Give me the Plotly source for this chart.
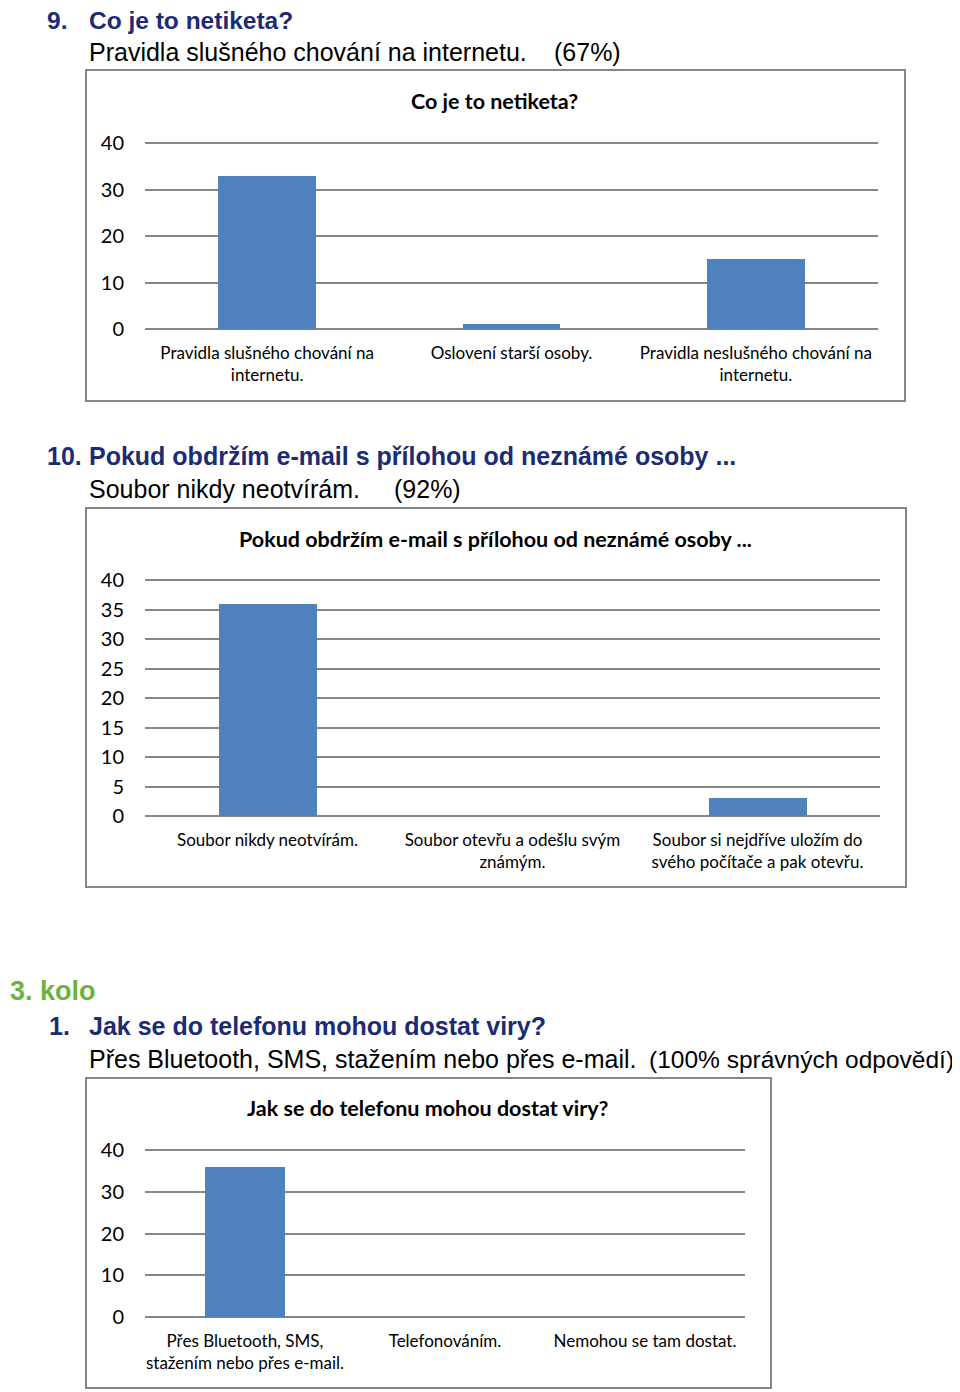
import plotly.graph_objects as go

# page coordinates of the reference (960x1392); the figure itself starts at
# the page's 8px body margin, so it is 952x1384 and positions are offset.
PW, PH = 960, 1392
OFF = 8
W, H = PW - OFF, PH - OFF

# ---- data ----
cats1 = ["Pravidla slušného chování na<br>internetu.", "Oslovení starší osoby.",
         "Pravidla neslušného chování na<br>internetu."]
vals1 = [33, 1, 15]
title1 = "Co je to netiketa?"

cats2 = ["Soubor nikdy neotvírám.", "Soubor otevřu a odešlu svým<br>známým.",
         "Soubor si nejdříve uložím do<br>svého počítače a pak otevřu."]
vals2 = [36, 0, 3]
title2 = "Pokud obdržím e-mail s přílohou od neznámé osoby ..."

cats3 = ["Přes Bluetooth, SMS,<br>stažením nebo přes e-mail.", "Telefonováním.",
         "Nemohou se tam dostat."]
vals3 = [36, 0, 0]
title3 = "Jak se do telefonu mohou dostat viry?"

BAR = "#4F81BD"
GRID = "#868686"
NAVY = "#1C2C74"
GREEN = "#6AB43E"
CFONT = "Lato"
HFONT = "Liberation Sans"


def fx(px):
    return (px - OFF) / W


def fy(py):
    return 1 - (py - OFF) / H


fig = go.Figure()

charts = [
    (cats1, vals1, "x", "y", (145, 878), (143, 329), 10),
    (cats2, vals2, "x2", "y2", (145, 880), (580, 816), 5),
    (cats3, vals3, "x3", "y3", (145, 745), (1150, 1317), 10),
]

YMAX = 40
EXTRA = 3  # px of headroom so the top gridline is kept

for i, (cats, vals, xa, ya, xd, yd, dt) in enumerate(charts):
    fig.add_trace(go.Bar(x=cats, y=vals, xaxis=xa, yaxis=ya, width=0.4,
                         marker=dict(color=BAR, line=dict(width=0)),
                         showlegend=False))
    sfx = "" if i == 0 else str(i + 1)
    ppu = (yd[1] - yd[0]) / YMAX
    top = YMAX + EXTRA / ppu
    fig.layout["xaxis" + sfx] = dict(
        domain=[fx(xd[0]), fx(xd[1])], anchor="y" + sfx, type="category",
        range=[-0.5, 2.5], showgrid=False, showline=False, ticks="",
        automargin=False,
        tickfont=dict(family=CFONT, size=17, color="#000000"),
        ticklabelstandoff=12, fixedrange=True)
    fig.layout["yaxis" + sfx] = dict(
        domain=[fy(yd[1]), fy(yd[0] - EXTRA)], anchor="x" + sfx, range=[0, top],
        dtick=dt, tick0=0, showgrid=True, gridcolor=GRID, gridwidth=1.5,
        zeroline=True, zerolinecolor=GRID, zerolinewidth=1.5,
        showline=False, ticks="", automargin=False,
        tickfont=dict(family=CFONT, size=20, color="#000000"),
        ticklabelstandoff=20, fixedrange=True)

# chart boxes
boxes = [(86, 70, 905, 401), (86, 508, 906, 887), (86, 1078, 771, 1388)]
shapes = []
for x0, y0, x1, y1 in boxes:
    shapes.append(dict(type="rect", xref="paper", yref="paper",
                       x0=fx(x0), x1=fx(x1), y0=fy(y1), y1=fy(y0),
                       line=dict(color=GRID, width=2), fillcolor="rgba(0,0,0,0)",
                       layer="below"))

ann = []


def text(x, y, s, size=25, color="#000000", bold=False, family=HFONT, anchor="left"):
    if bold:
        s = "<b>" + s + "</b>"
    ann.append(dict(x=fx(x), y=fy(y), xref="paper", yref="paper", text=s,
                    showarrow=False, xanchor=anchor, yanchor="middle",
                    font=dict(family=family, size=size, color=color)))


# chart titles
text(495, 101, title1, size=21.5, bold=True, family=CFONT, anchor="center")
text(496, 539, title2, size=21.5, bold=True, family=CFONT, anchor="center")
text(428, 1108, title3, size=21.5, bold=True, family=CFONT, anchor="center")

# page headings
text(45, 21, "9.", size=24.5, bold=True, color=NAVY)
text(87, 21, "Co je to netiketa?", size=24.5, bold=True, color=NAVY)
text(87, 52, "Pravidla slušného chování na internetu.")
text(552, 52, "(67%)")

text(45, 456, "10.", bold=True, color=NAVY)
text(87, 456, "Pokud obdržím e-mail s přílohou od neznámé osoby ...", bold=True, color=NAVY)
text(87, 489, "Soubor nikdy neotvírám.")
text(392, 489, "(92%)")

text(8, 991, "3. kolo", size=27, bold=True, color=GREEN)
text(47, 1026, "1.", bold=True, color=NAVY)
text(87, 1026, "Jak se do telefonu mohou dostat viry?", bold=True, color=NAVY)
text(87, 1059, "Přes Bluetooth, SMS, stažením nebo přes e-mail.")
text(956, 1059, "(100% správných odpovědí)", size=24.5, anchor="right")

fig.update_layout(width=W, height=H, margin=dict(l=0, r=0, t=0, b=0, pad=0),
                  paper_bgcolor="white", plot_bgcolor="rgba(0,0,0,0)",
                  shapes=shapes, annotations=ann, bargap=0)

fig.write_html("out.html")
